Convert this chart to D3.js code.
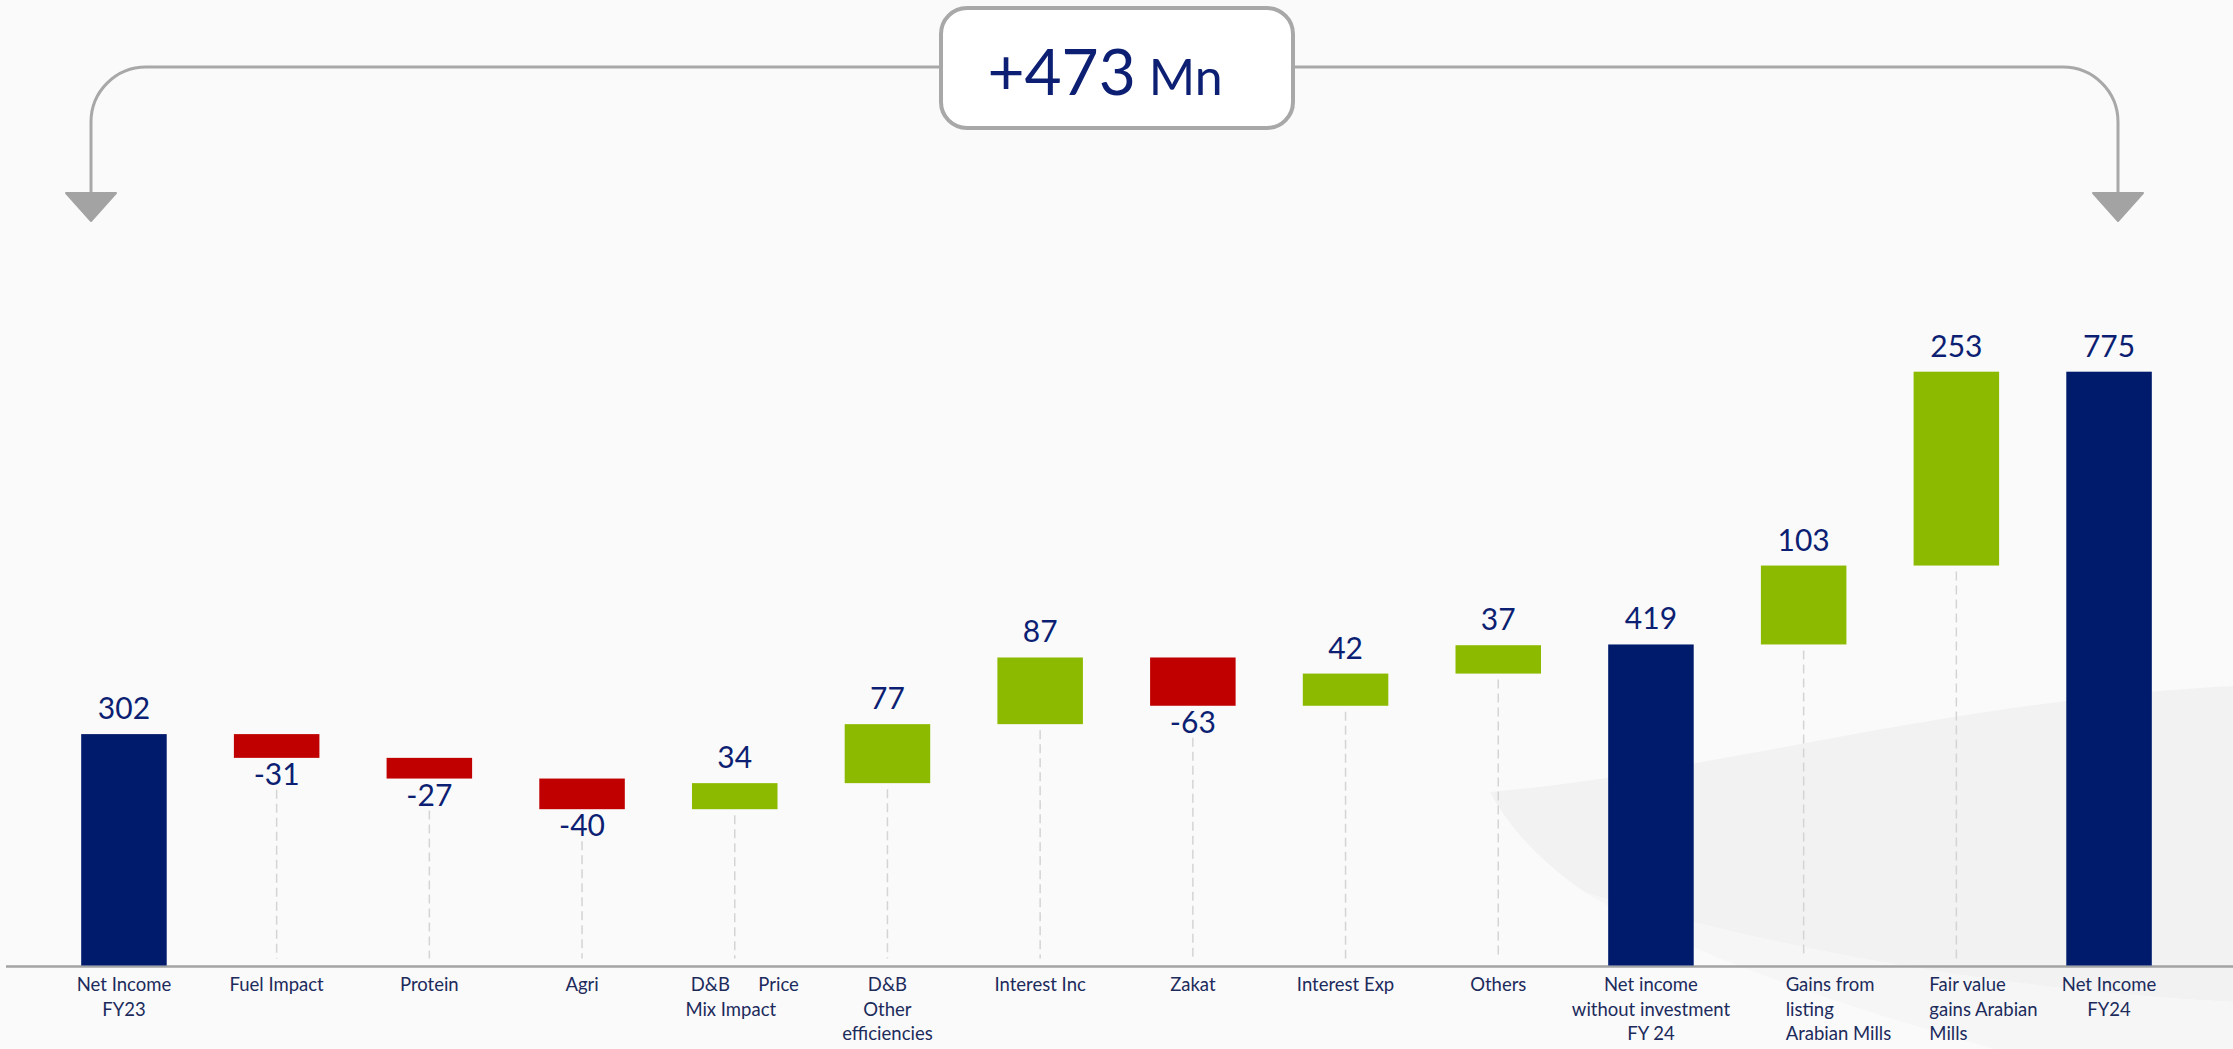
<!DOCTYPE html>
<html>
<head>
<meta charset="utf-8">
<script src="https://cdn.jsdelivr.net/npm/d3@7"></script>
<style>
  html, body { margin: 0; padding: 0; background: #fafafa; }
  svg { display: block; font-family: Lato, "Open Sans", sans-serif; }
</style>
</head>
<body>
<div id="chart"></div>
<script>
// chart data
const categories = [
  ["Net Income", "FY23"],
  ["Fuel Impact"],
  ["Protein"],
  ["Agri"],
  ["D&B      Price", "Mix Impact"],
  ["D&B", "Other", "efficiencies"],
  ["Interest Inc"],
  ["Zakat"],
  ["Interest Exp"],
  ["Others"],
  ["Net income", "without investment", "FY 24"],
  ["Gains from", "listing", "Arabian Mills"],
  ["Fair value", "gains Arabian", "Mills"],
  ["Net Income", "FY24"]
];
const values = [302, -31, -27, -40, 34, 77, 87, -63, 42, 37, 419, 103, 253, 775];
const kinds = ["total", "delta", "delta", "delta", "delta", "delta", "delta", "delta", "delta", "delta", "total", "delta", "delta", "total"];
const totalChange = "+473";
const totalUnit = " Mn";

const width = 2233, height = 1049;
const colors = { total: "#001a6c", up: "#8cba00", down: "#c00000" };
const textBlue = "#0c1f73";
const labelBlue = "#1c2b5c";

// build waterfall steps
let running = 0;
const steps = values.map((v, i) => {
  let start, end;
  if (kinds[i] === "total") { start = 0; end = v; running = v; }
  else { start = running; end = running + v; running = end; }
  return { i, key: i, value: v, kind: kinds[i], start, end, lines: categories[i] };
});

const svg = d3.select("#chart").append("svg")
  .attr("width", width)
  .attr("height", height);

svg.append("rect").attr("width", width).attr("height", height).attr("fill", "#fafafa");

// faint background swoosh
svg.append("path")
  .attr("d", "M1490,792 C1700,775 1950,700 2233,686 L2233,1002 C2000,990 1780,950 1586,893 C1545,865 1510,830 1490,792 Z")
  .attr("fill", "#f2f2f2");
svg.append("path")
  .attr("d", "M1586,893 C1780,950 2000,990 2233,1002 L2233,1049 L1995,1049 C1820,1000 1680,950 1586,893 Z")
  .attr("fill", "#f6f6f6");

const x = d3.scaleBand()
  .domain(steps.map(d => d.key))
  .range([47.6, 2185.4])
  .paddingInner(0.44)
  .paddingOuter(0.22);

const y = d3.scaleLinear()
  .domain([0, 775])
  .range([965.5, 371.7]);

const cx = d => x(d.key) + x.bandwidth() / 2;

// dashed guide lines under floating bars
const guides = steps.filter(d => d.kind === "delta");
svg.append("g").selectAll("line").data(guides).join("line")
  .attr("x1", cx).attr("x2", cx)
  .attr("y1", d => {
    const bottom = y(Math.min(d.start, d.end));
    return d.value < 0 ? bottom + 32 : bottom + 6;
  })
  .attr("y2", y(0) - 7)
  .attr("stroke", "#d4d4d4")
  .attr("stroke-width", 1.5)
  .attr("stroke-dasharray", "9,5");

// axis line
svg.append("line")
  .attr("x1", 6).attr("x2", width)
  .attr("y1", y(0) + 1).attr("y2", y(0) + 1)
  .attr("stroke", "#a3a3a3")
  .attr("stroke-width", 2.5);

// bars
svg.append("g").selectAll("rect").data(steps).join("rect")
  .attr("x", d => x(d.key))
  .attr("width", x.bandwidth())
  .attr("y", d => y(Math.max(d.start, d.end)))
  .attr("height", d => Math.abs(y(d.start) - y(d.end)))
  .attr("fill", d => d.kind === "total" ? colors.total : (d.value < 0 ? colors.down : colors.up));

// value labels
svg.append("g").selectAll("text").data(steps).join("text")
  .attr("x", cx)
  .attr("y", d => d.value < 0 ? y(Math.min(d.start, d.end)) + 27 : y(Math.max(d.start, d.end)) - 15)
  .attr("text-anchor", "middle")
  .attr("font-size", 30)
  .attr("fill", textBlue)
  .text(d => d.value);

// category labels (a few are left aligned in the original)
const leftAligned = { 11: -18, 12: -27 };
const lineShift = { 4: [10, -4] };
const catG = svg.append("g");
steps.forEach(d => {
  const t = catG.append("text")
    .attr("font-size", 18.5)
    .attr("fill", labelBlue)
    .style("white-space", "pre")
    .attr("text-anchor", d.i in leftAligned ? "start" : "middle");
  d.lines.forEach((line, j) => {
    const dx = d.i in leftAligned ? leftAligned[d.i] : (lineShift[d.i] ? lineShift[d.i][j] : 0);
    t.append("tspan")
      .attr("x", cx(d) + dx)
      .attr("y", 991 + j * 24.5)
      .text(line);
  });
});

// top bracket with total change
const bracket = svg.append("g");
bracket.append("path")
  .attr("d", "M941,67 H146 A55,55 0 0 0 91,122 V194")
  .attr("fill", "none").attr("stroke", "#a8a8a8").attr("stroke-width", 3);
bracket.append("path")
  .attr("d", "M1293,67 H2063 A55,55 0 0 1 2118,122 V194")
  .attr("fill", "none").attr("stroke", "#a8a8a8").attr("stroke-width", 3);
bracket.selectAll("path.head").data([91, 2118]).join("path")
  .attr("class", "head")
  .attr("d", d => `M${d - 25},193 L${d + 25},193 L${d},221 Z`)
  .attr("fill", "#a3a3a3")
  .attr("stroke", "#a3a3a3")
  .attr("stroke-width", 2)
  .attr("stroke-linejoin", "round");

bracket.append("rect")
  .attr("x", 941).attr("y", 8)
  .attr("width", 352).attr("height", 120)
  .attr("rx", 26).attr("ry", 26)
  .attr("fill", "#ffffff")
  .attr("stroke", "#a8a8a8")
  .attr("stroke-width", 4);

const title = bracket.append("text")
  .attr("x", 1105).attr("y", 95)
  .attr("text-anchor", "middle")
  .attr("fill", textBlue);
title.append("tspan").attr("font-size", 64).text(totalChange);
title.append("tspan").attr("font-size", 50).text(totalUnit);
</script>
</body>
</html>
